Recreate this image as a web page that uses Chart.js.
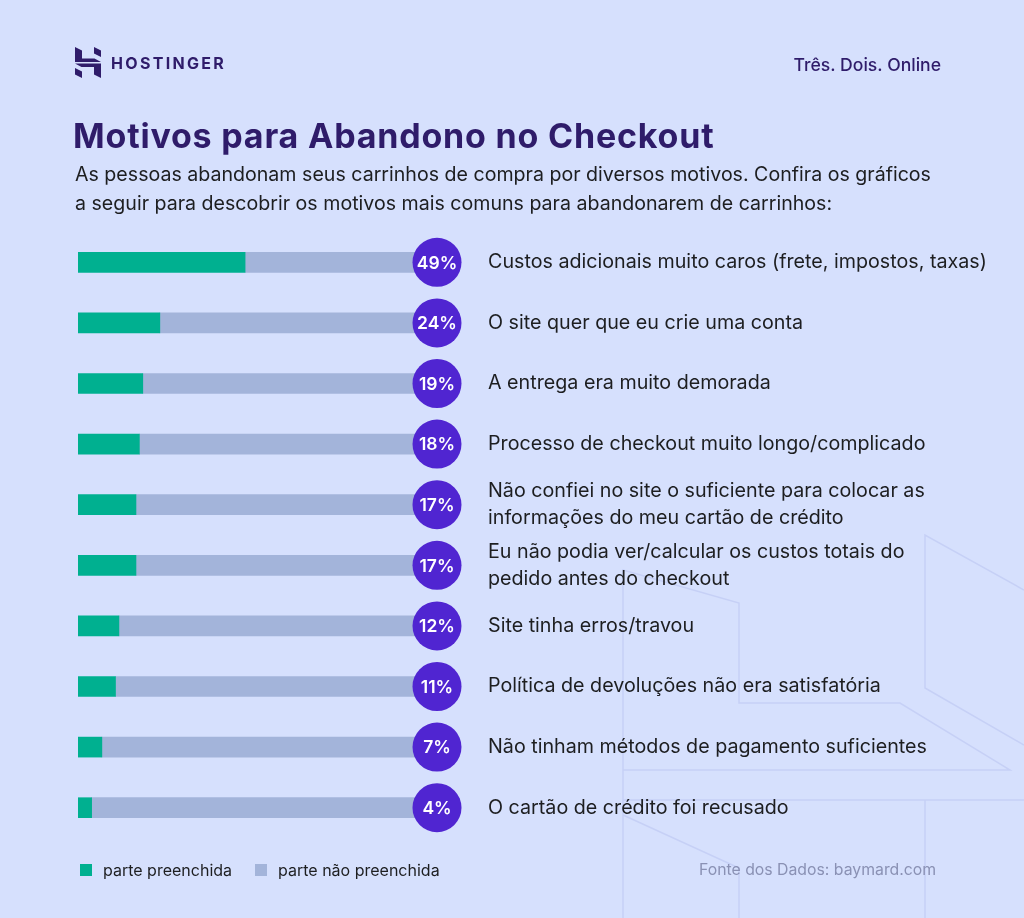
<!DOCTYPE html>
<html lang="pt-BR">
<head>
<meta charset="utf-8">
<title>Motivos para Abandono no Checkout</title>
<script src="https://cdn.jsdelivr.net/npm/chart.js@4.4.1/dist/chart.umd.min.js"></script>
<style>
  html, body {
    margin: 0;
    padding: 0;
  }
  body {
    width: 1024px;
    height: 918px;
    position: relative;
    overflow: hidden;
    background: #d6e0fd;
    font-family: Inter, "Noto Sans", sans-serif;
    color: #1d1e20;
  }
  #decor, #chart-wrap, .txt {
    position: absolute;
  }
  #decor {
    left: 0;
    top: 0;
  }
  #chart-wrap {
    left: 0;
    top: 0;
    width: 1024px;
    height: 918px;
  }
  .logo {
    left: 75px;
    top: 47px;
  }
  .brand {
    left: 111px;
    top: 53px;
    font-size: 16px;
    font-weight: 700;
    letter-spacing: 2.3px;
    color: #2f1c6a;
  }
  .tagline {
    right: 83px;
    top: 54px;
    font-size: 17.6px;
    font-weight: 500;
    color: #2f1c6a;
  }
  .title {
    left: 73px;
    top: 115px;
    font-size: 34px;
    font-weight: 700;
    color: #2f1c6a;
    letter-spacing: 0.8px;
  }
  .subtitle {
    left: 75px;
    top: 160px;
    font-size: 19.6px;
    line-height: 29px;
    width: 940px;
  }
  .legend {
    left: 80px;
    top: 860px;
    font-size: 16px;
    display: flex;
    align-items: center;
  }
  .legend .sw {
    width: 12px;
    height: 12px;
    display: inline-block;
    margin-right: 11px;
  }
  .legend .item {
    display: flex;
    align-items: center;
    margin-right: 23px;
  }
  .source {
    left: 699px;
    top: 860px;
    font-size: 15.8px;
    color: #8a91b4;
  }
</style>
</head>
<body>

<svg id="decor" width="1024" height="918" viewBox="0 0 1024 918">
  <g fill="none" stroke="#c6d0f6" stroke-width="1.5">
    <polyline points="623,918 623,570 739,603 739,703 900,703 1010,770 623,770"></polyline>
    <polyline points="1024,590 925,535 925,688 1024,745"></polyline>
    <polyline points="623,800 1024,800"></polyline>
    <polyline points="623,815 739,868 739,918"></polyline>
    <polyline points="925,800 925,918"></polyline>
  </g>
</svg>

<div id="chart-wrap"><canvas id="chart" width="1024" height="918"></canvas></div>

<svg class="txt logo" width="26" height="31" viewBox="0 0 26 31">
  <g fill="#2f1c6a">
    <path d="M0 0 L7 3.6 L7 11.5 L19.5 11.5 L26 15 L0 15 Z"></path>
    <path d="M19 0 L26 3.6 L26 10 L19 6.5 Z"></path>
    <path d="M0 16.5 L26 16.5 L26 31 L19 27.4 L19 20 L6.5 20 Z"></path>
    <path d="M0 21 L7 24.5 L7 31 L0 27.4 Z"></path>
  </g>
</svg>
<div class="txt brand">HOSTINGER</div>
<div class="txt tagline">Três. Dois. Online</div>

<div class="txt title">Motivos para Abandono no Checkout</div>
<div class="txt subtitle">As pessoas abandonam seus carrinhos de compra por diversos motivos. Confira os gráficos<br>a seguir para descobrir os motivos mais comuns para abandonarem de carrinhos:</div>

<div class="txt legend">
  <span class="item"><span class="sw" style="background:#00b090"></span>parte preenchida</span>
  <span class="item"><span class="sw" style="background:#a3b4da"></span>parte não preenchida</span>
</div>
<div class="txt source">Fonte dos Dados: baymard.com</div>

<script>
// Reasons (one or two lines each)
const reasons = [
  "Custos adicionais muito caros (frete, impostos, taxas)",
  "O site quer que eu crie uma conta",
  "A entrega era muito demorada",
  "Processo de checkout muito longo/complicado",
  ["Não confiei no site o suficiente para colocar as", "informações do meu cartão de crédito"],
  ["Eu não podia ver/calcular os custos totais do", "pedido antes do checkout"],
  "Site tinha erros/travou",
  "Política de devoluções não era satisfatória",
  "Não tinham métodos de pagamento suficientes",
  "O cartão de crédito foi recusado"
];

// Share of shoppers (%)
const filled = [49, 24, 19, 18, 17, 17, 12, 11, 7, 4];
const unfilled = filled.map((v) => 100 - v);

const seriesNames = ["parte preenchida", "parte não preenchida"];
const green = "#00b090";
const grey = "#a3b4da";
const purple = "#5025d1";

// draws the purple percent badges at the end of each bar
const badgePlugin = {
  id: "badges",
  afterDatasetsDraw(chart) {
    const { ctx, chartArea, scales } = chart;
    ctx.save();
    filled.forEach((v, i) => {
      const y = scales.y.getPixelForValue(i);
      const x = chartArea.right + 18;
      ctx.beginPath();
      ctx.arc(x, y, 24.5, 0, Math.PI * 2);
      ctx.fillStyle = purple;
      ctx.fill();
      ctx.fillStyle = "#ffffff";
      ctx.font = "600 17.5px Inter, 'Noto Sans', sans-serif";
      ctx.textAlign = "center";
      ctx.textBaseline = "middle";
      ctx.fillText(v + "%", x, y + 1);
    });
    ctx.restore();
  },
};

const ctx = document.getElementById("chart").getContext("2d");
const chart = new Chart(ctx, {
  type: "bar",
  data: {
    labels: reasons,
    datasets: [
      {
        label: seriesNames[0],
        data: filled,
        backgroundColor: green,
        barThickness: 20,
      },
      {
        label: seriesNames[1],
        data: unfilled,
        backgroundColor: grey,
        barThickness: 20,
      },
    ],
  },
  options: {
    indexAxis: "y",
    responsive: false,
    animation: false,
    layout: {
      padding: { left: 78, top: 232, right: 0, bottom: 80 },
    },
    plugins: {
      legend: { display: false },
      tooltip: { enabled: false },
    },
    scales: {
      x: {
        stacked: true,
        min: 0,
        max: 100,
        display: false,
      },
      y: {
        stacked: true,
        position: "right",
        // tick length (not drawn) used as the gap between bars and labels
        grid: { display: false, drawTicks: true, tickLength: 69 },
        border: { display: false },
        ticks: {
          padding: 0,
          crossAlign: "near",
          color: "#1d1e20",
          font: { family: "Inter, 'Noto Sans', sans-serif", size: 19.7, lineHeight: 1.39 },
        },
        afterFit(scale) {
          scale.width = 1024 - 419;
        },
      },
    },
  },
  plugins: [badgePlugin],
});
</script>
</body>
</html>
